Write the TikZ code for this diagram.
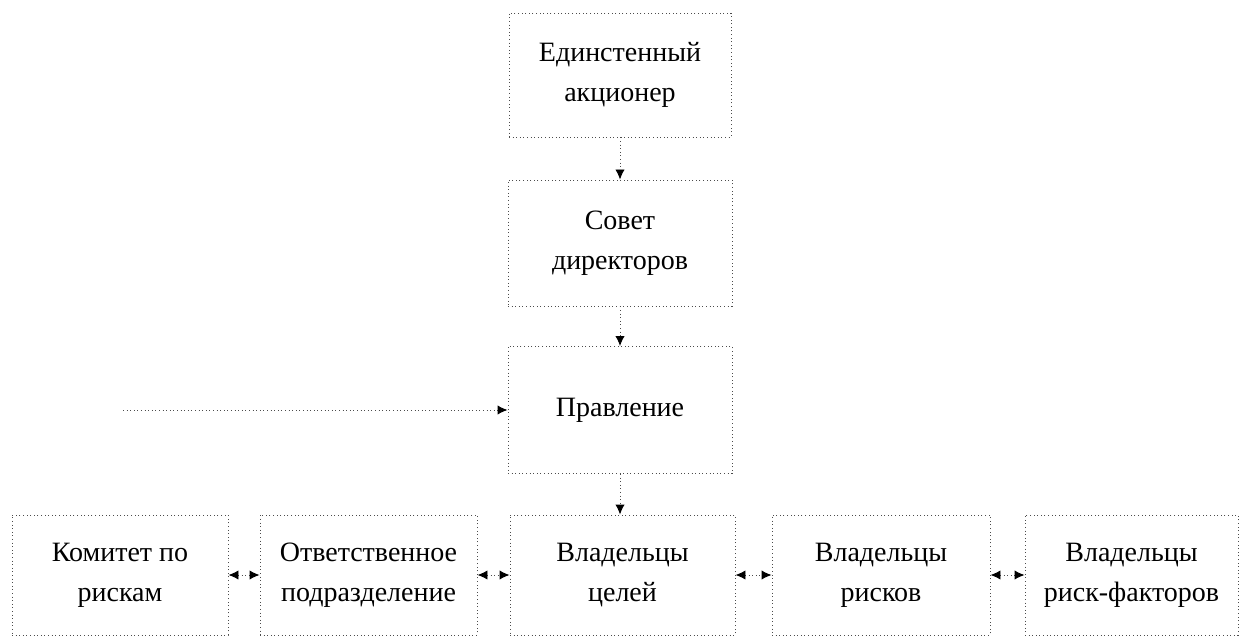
\documentclass[tikz,border=0pt]{standalone}
\usepackage{fontspec}
\setmainfont{Liberation Serif}
\usetikzlibrary{arrows.meta}
\begin{document}
\begin{tikzpicture}[x=0.75pt,y=-0.75pt,
  box/.style={draw=black!70, dotted, line width=0.7pt, align=center, inner sep=0pt,
    font=\fontsize{21}{30}\selectfont, text=black},
  conn/.style={draw=black!70, dotted, line width=0.7pt,
    arrows={-Latex[length=7.5pt,width=7pt,black]}},
  conn2/.style={draw=black!70, dotted, line width=0.7pt,
    arrows={Latex[length=7.5pt,width=7pt,black]-Latex[length=7.5pt,width=7pt,black]}}]
\useasboundingbox (0,0) rectangle (1242,641);
\node[box, minimum width=166.5pt, minimum height=93pt] (A) at (620,75) {Единстенный\\акционер};
\node[box, minimum width=168pt, minimum height=94.5pt] (B) at (620,243) {Совет\\директоров};
\node[box, minimum width=168pt, minimum height=95.25pt] (C) at (620,410) {Правление};
\node[box, minimum width=162pt, minimum height=90pt] (K) at (120,575) {Комитет по\\рискам};
\node[box, minimum width=162.75pt, minimum height=90pt] (O) at (368.5,575) {Ответственное\\подразделение};
\node[box, minimum width=168.75pt, minimum height=90pt] (V1) at (622.5,575) {Владельцы\\целей};
\node[box, minimum width=163.5pt, minimum height=90pt] (V2) at (881,575) {Владельцы\\рисков};
\node[box, minimum width=159.75pt, minimum height=90pt] (V3) at (1131.5,575) {Владельцы\\риск-факторов};
\coordinate (L) at (123,410);
\draw[conn] (A.south) -- (B.north);
\draw[conn] (B.south) -- (C.north);
\draw[conn] (C.south) -- (C.south |- V1.north);
\draw[conn] (L) -- (C.west);
\draw[conn2] (K.east) -- (O.west);
\draw[conn2] (O.east) -- (V1.west);
\draw[conn2] (V1.east) -- (V2.west);
\draw[conn2] (V2.east) -- (V3.west);
\end{tikzpicture}
\end{document}
